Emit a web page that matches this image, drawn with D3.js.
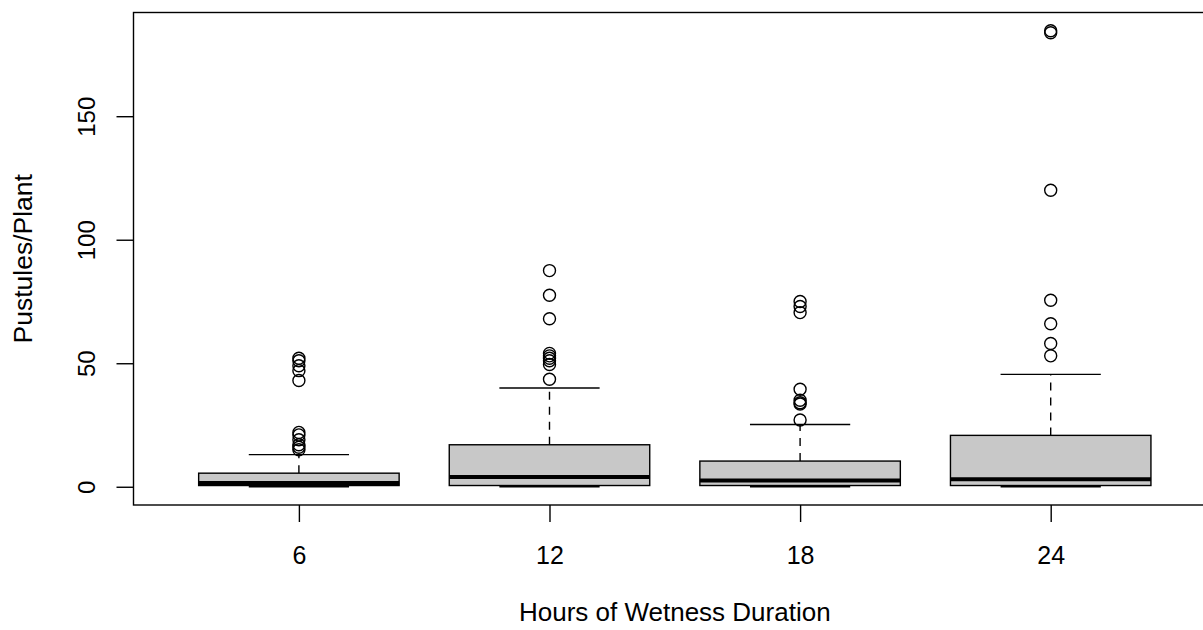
<!DOCTYPE html>
<html>
<head>
<meta charset="utf-8">
<script src="https://cdn.jsdelivr.net/npm/d3@7"></script>
<style>
    body { margin: 0; background: #fff; }
    svg { display: block; font-family: "Liberation Sans", Arial, Helvetica, sans-serif; }
</style>
</head>
<body>
<div id="chart"></div>
<script>
// Box plot of pustules per plant by wetness duration
const groups = ['6', '12', '18', '24'];
const lowerWhisker = [0, 0, 0, 0];
const q1 = [0.5, 0.5, 0.5, 0.5];
const medians = [1.5, 4, 2.5, 3];
const q3 = [5.5, 17, 10.4, 20.8];
const upperWhisker = [13, 40, 25.2, 45.5];
const outliers = [
    [52, 51, 49, 47, 43, 22, 21, 19, 17, 16, 15],
    [87.5, 77.5, 68, 54, 53, 52, 51, 49.5, 43.5],
    [75, 73, 70.5, 39.5, 35, 34, 33.5, 27],
    [184.6, 183.8, 120, 75.5, 66, 58, 53]
];
const yTicks = [0, 50, 100, 150];

const width = 1203;
const height = 630;
const plot = {left: 133.5, top: 12.5, bottom: 505};

const svg = d3.select('#chart')
    .append('svg')
    .attr('width', width)
    .attr('height', height);

// R-style axis extension of 4% on each side
const n = groups.length;
const x = d3.scaleLinear()
    .domain([0.5 - 0.04 * n, n + 0.5 + 0.04 * n])
    .range([plot.left, plot.left + (n + 0.32) * 250.6]);

const allVals = lowerWhisker.concat(upperWhisker, outliers.flat());
const yMin = d3.min(allVals);
const yMax = d3.max(allVals);
const yPad = (yMax - yMin) * 0.04;
const y = d3.scaleLinear()
    .domain([yMin - yPad, yMax + yPad])
    .range([plot.bottom, plot.top]);

const boxW = 0.8 * (x(2) - x(1));
const capW = boxW / 2;

const data = groups.map((g, i) => ({
    group: g, pos: i + 1,
    lo: lowerWhisker[i], q1: q1[i], med: medians[i], q3: q3[i], hi: upperWhisker[i],
    out: outliers[i]
}));

const boxes = svg.selectAll('.box')
    .data(data)
    .enter()
    .append('g')
    .attr('class', 'box');

// whiskers (dashed)
boxes.append('line')
    .attr('x1', d => x(d.pos)).attr('x2', d => x(d.pos))
    .attr('y1', d => y(d.q3)).attr('y2', d => y(d.hi))
    .attr('stroke', '#000').attr('stroke-width', 1.4)
    .attr('stroke-dasharray', '8,7');

boxes.append('line')
    .attr('x1', d => x(d.pos)).attr('x2', d => x(d.pos))
    .attr('y1', d => y(d.q1)).attr('y2', d => y(d.lo))
    .attr('stroke', '#000').attr('stroke-width', 1.4)
    .attr('stroke-dasharray', '8,7');

// staples
boxes.append('line')
    .attr('x1', d => x(d.pos) - capW / 2).attr('x2', d => x(d.pos) + capW / 2)
    .attr('y1', d => y(d.hi)).attr('y2', d => y(d.hi))
    .attr('stroke', '#000').attr('stroke-width', 1.4);

boxes.append('line')
    .attr('x1', d => x(d.pos) - capW / 2).attr('x2', d => x(d.pos) + capW / 2)
    .attr('y1', d => y(d.lo)).attr('y2', d => y(d.lo))
    .attr('stroke', '#000').attr('stroke-width', 1.4);

// box
boxes.append('rect')
    .attr('x', d => x(d.pos) - boxW / 2)
    .attr('width', boxW)
    .attr('y', d => y(d.q3))
    .attr('height', d => y(d.q1) - y(d.q3))
    .attr('fill', '#c8c8c8')
    .attr('stroke', '#000')
    .attr('stroke-width', 1.4);

// median
boxes.append('line')
    .attr('x1', d => x(d.pos) - boxW / 2).attr('x2', d => x(d.pos) + boxW / 2)
    .attr('y1', d => y(d.med)).attr('y2', d => y(d.med))
    .attr('stroke', '#000').attr('stroke-width', 4);

// outliers
boxes.selectAll('circle')
    .data(d => d.out.map(v => ({pos: d.pos, v: v})))
    .enter()
    .append('circle')
    .attr('cx', d => x(d.pos))
    .attr('cy', d => y(d.v))
    .attr('r', 6)
    .attr('fill', 'none')
    .attr('stroke', '#000')
    .attr('stroke-width', 1.4);

// frame (right side runs off the picture)
svg.append('rect')
    .attr('x', plot.left)
    .attr('y', plot.top)
    .attr('width', x.range()[1] - plot.left)
    .attr('height', plot.bottom - plot.top)
    .attr('fill', 'none')
    .attr('stroke', '#000')
    .attr('stroke-width', 1.4);

// x axis
const xAxis = svg.append('g')
    .attr('transform', `translate(0,${plot.bottom})`)
    .call(d3.axisBottom(x)
        .tickValues(data.map(d => d.pos))
        .tickFormat((d, i) => groups[i])
        .tickSize(17)
        .tickPadding(24));
xAxis.select('.domain').remove();
xAxis.selectAll('line').attr('stroke', '#000').attr('stroke-width', 1.4);
xAxis.selectAll('text')
    .attr('font-size', 25)
    .attr('font-family', '"Liberation Sans", Arial, sans-serif')
    .attr('fill', '#000');

// y axis
const yAxis = svg.append('g')
    .attr('transform', `translate(${plot.left},0)`)
    .call(d3.axisLeft(y)
        .tickValues(yTicks)
        .tickSize(17)
        .tickPadding(0));
yAxis.select('.domain').remove();
yAxis.selectAll('line').attr('stroke', '#000').attr('stroke-width', 1.4);
yAxis.selectAll('text')
    .attr('font-size', 24)
    .attr('font-family', '"Liberation Sans", Arial, sans-serif')
    .attr('fill', '#000')
    .attr('text-anchor', 'middle')
    .attr('dy', 0)
    .attr('x', 0)
    .attr('transform', 'translate(-39,0) rotate(-90)');

// axis titles
svg.append('text')
    .attr('x', x((1 + n) / 2))
    .attr('y', 621)
    .attr('text-anchor', 'middle')
    .attr('font-size', 26)
    .attr('fill', '#000')
    .text('Hours of Wetness Duration');

svg.append('text')
    .attr('transform', `translate(32,${(plot.top + plot.bottom) / 2}) rotate(-90)`)
    .attr('text-anchor', 'middle')
    .attr('font-size', 26.5)
    .attr('fill', '#000')
    .text('Pustules/Plant');
</script>
</body>
</html>
